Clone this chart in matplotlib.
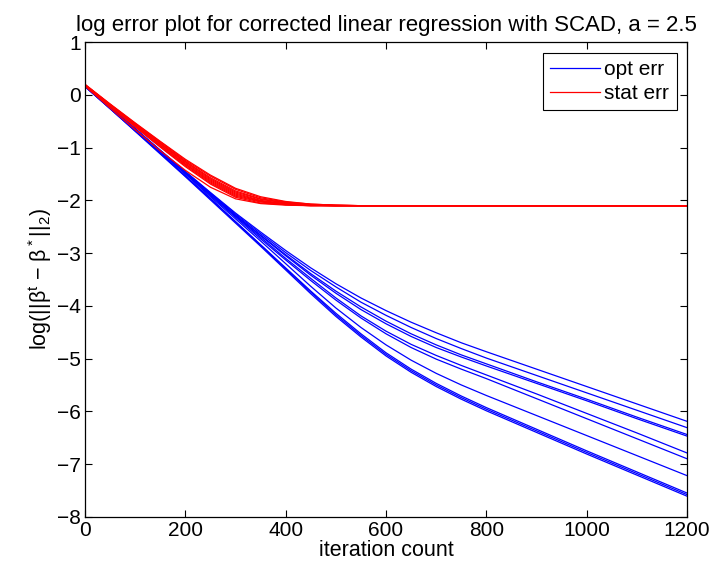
import matplotlib
matplotlib.use('Agg')
import matplotlib.pyplot as plt

plt.rcParams['font.family'] = ['Liberation Sans', 'DejaVu Sans']
plt.rcParams['mathtext.default'] = 'regular'

# iteration grid for the optimisation error curves
iters = [0, 50, 100, 150, 200, 250, 300, 350, 400, 450, 500, 550, 600, 650,
         700, 750, 800, 900, 1000, 1100, 1200]

# log optimisation error, one list per trial
opt_err = [
    [0.17, -0.24, -0.64, -1.05, -1.45, -1.85, -2.24, -2.60, -2.95, -3.28, -3.58, -3.85, -4.09, -4.31, -4.51, -4.70, -4.87, -5.20, -5.53, -5.86, -6.19],
    [0.17, -0.24, -0.64, -1.05, -1.46, -1.86, -2.26, -2.63, -2.99, -3.33, -3.64, -3.93, -4.18, -4.41, -4.62, -4.81, -4.99, -5.32, -5.65, -5.98, -6.31],
    [0.17, -0.24, -0.65, -1.06, -1.47, -1.88, -2.28, -2.66, -3.03, -3.39, -3.72, -4.02, -4.29, -4.53, -4.74, -4.93, -5.10, -5.44, -5.77, -6.11, -6.44],
    [0.17, -0.24, -0.65, -1.06, -1.47, -1.88, -2.29, -2.67, -3.05, -3.42, -3.76, -4.07, -4.34, -4.58, -4.79, -4.97, -5.14, -5.47, -5.80, -6.14, -6.47],
    [0.17, -0.24, -0.65, -1.07, -1.48, -1.89, -2.30, -2.70, -3.10, -3.48, -3.85, -4.19, -4.48, -4.73, -4.94, -5.13, -5.31, -5.67, -6.04, -6.41, -6.79],
    [0.17, -0.24, -0.66, -1.07, -1.49, -1.91, -2.32, -2.73, -3.13, -3.52, -3.89, -4.23, -4.53, -4.79, -5.01, -5.20, -5.38, -5.76, -6.14, -6.52, -6.90],
    [0.16, -0.25, -0.66, -1.08, -1.50, -1.93, -2.35, -2.77, -3.20, -3.63, -4.04, -4.41, -4.74, -5.03, -5.28, -5.50, -5.70, -6.08, -6.46, -6.84, -7.22],
    [0.16, -0.26, -0.68, -1.10, -1.53, -1.96, -2.40, -2.84, -3.28, -3.72, -4.14, -4.53, -4.89, -5.20, -5.47, -5.71, -5.93, -6.34, -6.75, -7.15, -7.55],
    [0.16, -0.26, -0.68, -1.11, -1.54, -1.97, -2.41, -2.85, -3.30, -3.74, -4.17, -4.56, -4.92, -5.23, -5.50, -5.74, -5.96, -6.37, -6.78, -7.18, -7.58],
    [0.16, -0.26, -0.69, -1.12, -1.55, -1.99, -2.43, -2.87, -3.32, -3.77, -4.20, -4.59, -4.95, -5.26, -5.53, -5.77, -5.99, -6.40, -6.81, -7.21, -7.61],
]

# iteration grid for the statistical error curves (flat after 600)
stat_iters = [0, 50, 100, 150, 200, 250, 300, 350, 400, 450, 500, 550, 600, 1200]

stat_err = [
    [0.20, -0.17, -0.53, -0.88, -1.22, -1.52, -1.77, -1.93, -2.02, -2.07, -2.09, -2.10, -2.10, -2.10],
    [0.20, -0.18, -0.54, -0.89, -1.24, -1.54, -1.79, -1.95, -2.03, -2.07, -2.09, -2.10, -2.10, -2.10],
    [0.19, -0.18, -0.55, -0.91, -1.26, -1.57, -1.82, -1.97, -2.04, -2.08, -2.09, -2.10, -2.10, -2.10],
    [0.19, -0.19, -0.56, -0.92, -1.27, -1.59, -1.84, -1.98, -2.05, -2.08, -2.10, -2.10, -2.10, -2.10],
    [0.19, -0.19, -0.57, -0.93, -1.29, -1.61, -1.86, -2.00, -2.06, -2.09, -2.10, -2.10, -2.10, -2.10],
    [0.18, -0.20, -0.58, -0.95, -1.31, -1.63, -1.88, -2.01, -2.07, -2.09, -2.10, -2.10, -2.10, -2.10],
    [0.18, -0.20, -0.59, -0.96, -1.32, -1.65, -1.90, -2.02, -2.07, -2.09, -2.10, -2.10, -2.10, -2.10],
    [0.18, -0.21, -0.60, -0.98, -1.34, -1.67, -1.92, -2.03, -2.08, -2.10, -2.10, -2.10, -2.10, -2.10],
    [0.17, -0.22, -0.61, -0.99, -1.36, -1.69, -1.94, -2.05, -2.08, -2.10, -2.10, -2.10, -2.10, -2.10],
    [0.17, -0.25, -0.66, -1.06, -1.43, -1.75, -1.97, -2.06, -2.09, -2.10, -2.10, -2.10, -2.10, -2.10],
]

xticks = [0, 200, 400, 600, 800, 1000, 1200]
yticks = [-8, -7, -6, -5, -4, -3, -2, -1, 0, 1]

fig = plt.figure(figsize=(7.27, 5.71), dpi=100)
ax = fig.add_axes([0.117, 0.095, 0.828, 0.831])

for i, run in enumerate(opt_err):
    ax.plot(iters, run, color='#0000ff', lw=0.9, label='opt err' if i == 0 else None)
for i, run in enumerate(stat_err):
    ax.plot(stat_iters, run, color='#ff0000', lw=0.9, label='stat err' if i == 0 else None)

ax.set_xlim(0, 1200)
ax.set_ylim(-8, 1)
ax.set_xticks(xticks)
ax.set_yticks(yticks)
ax.tick_params(direction='in', top=True, right=True, length=5, width=0.8, labelsize=15, pad=3)
for s in ax.spines.values():
    s.set_linewidth(0.9)

ax.set_xlabel('iteration count', fontsize=15.5, labelpad=0)
ax.set_ylabel(r'log(||$\beta^t$ $-$ $\beta^*$||$_2$)', fontsize=15.5, labelpad=2)
ax.set_title('log error plot for corrected linear regression with SCAD, a = 2.5', fontsize=16, pad=8)

leg = ax.legend(loc='upper right', fontsize=15, fancybox=False, framealpha=1,
                edgecolor='black', borderaxespad=0.5, handlelength=2.4,
                handletextpad=0.2, borderpad=0.35, labelspacing=0.25)
leg.get_frame().set_linewidth(0.8)

fig.savefig('out.png', dpi=100)
